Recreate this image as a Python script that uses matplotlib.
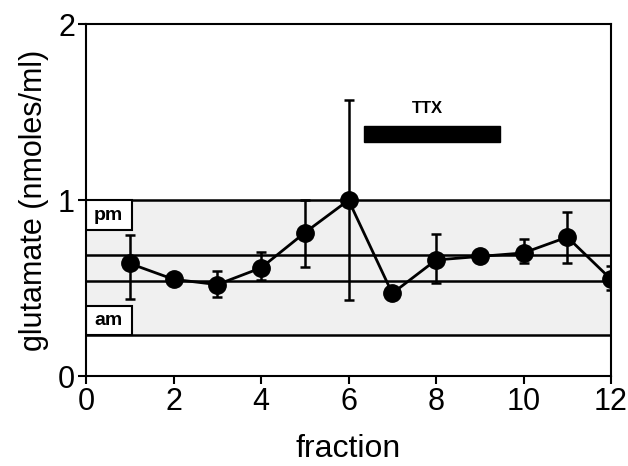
import matplotlib
matplotlib.use("Agg")
import matplotlib.pyplot as plt
from matplotlib.patches import Rectangle

plt.rcParams['font.family'] = ['Liberation Sans', 'DejaVu Sans']

# data
fraction = [1, 2, 3, 4, 5, 6, 7, 8, 9, 10, 11, 12]
glutamate = [0.64, 0.55, 0.52, 0.615, 0.815, 1.0, 0.47, 0.66, 0.68, 0.70, 0.79, 0.55]
err_low = [0.44, 0.53, 0.45, 0.545, 0.62, 0.43, 0.45, 0.53, 0.66, 0.64, 0.64, 0.49]
err_high = [0.80, 0.57, 0.595, 0.705, 1.0, 1.57, 0.49, 0.81, 0.70, 0.78, 0.935, 0.625]

band = (0.233, 1.0)          # shaded range
ref_lines = [1.0, 0.69, 0.54, 0.233]
pm_box = (0.83, 1.0)
am_box = (0.233, 0.40)
ttx_span = (6.36, 9.46)
ttx_y = (1.33, 1.42)

yerr = [[g - lo for g, lo in zip(glutamate, err_low)],
        [hi - g for g, hi in zip(glutamate, err_high)]]

fig = plt.figure(figsize=(6.28, 4.66), dpi=100)
ax = fig.add_axes([0.137, 0.193, 0.836, 0.755])

ax.axhspan(band[0], band[1], color='#f0f0f0', zorder=0, lw=0)
for y in ref_lines:
    ax.axhline(y, color='black', lw=1.8, zorder=1)

for (lo, hi), lab in [(pm_box, 'pm'), (am_box, 'am')]:
    ax.add_patch(Rectangle((0, lo), 1.05, hi - lo, facecolor='white',
                           edgecolor='black', lw=1.5, zorder=2))
    ax.text(0.52, (lo + hi) / 2, lab, ha='center', va='center',
            fontsize=14, fontweight='bold', zorder=3)

ax.add_patch(Rectangle((ttx_span[0], ttx_y[0]), ttx_span[1] - ttx_span[0],
                       ttx_y[1] - ttx_y[0], color='black', zorder=2))
ax.text(7.8, 1.52, 'TTX', ha='center', va='center', fontsize=12,
        fontweight='bold')

ax.errorbar(fraction, glutamate, yerr=yerr, color='black', lw=2,
            elinewidth=1.8, capsize=3.5, capthick=1.8, marker='o',
            markersize=12.5, zorder=4)

ax.set_xlim(0, 12)
ax.set_ylim(0, 2)
ax.set_xticks(range(0, 13, 2))
ax.set_yticks([0, 1, 2])
ax.tick_params(direction='out', length=6, width=1.5, labelsize=22, pad=2)
for s in ax.spines.values():
    s.set_linewidth(1.5)

ax.set_xlabel('fraction', fontsize=23, labelpad=12)
ax.set_ylabel('glutamate (nmoles/ml)', fontsize=22, labelpad=6)

fig.savefig('out.png', dpi=100)
